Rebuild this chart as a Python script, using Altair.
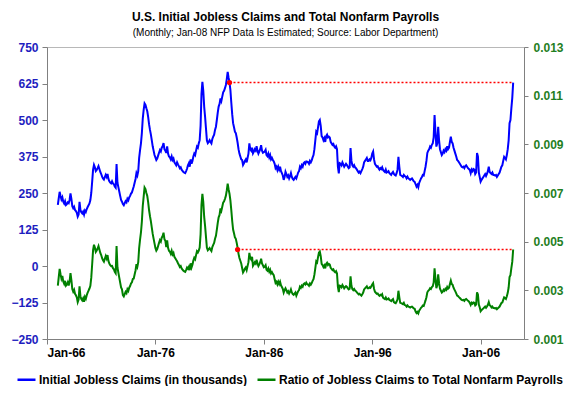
import altair as alt
import pandas as pd

START_YEAR = 1967  # first month: Jan-1967, monthly through Jan-2009

# Initial jobless claims, monthly average, thousands
claims = [
    209, 232, 254, 240, 228, 235, 220, 214, 222, 209, 212, 218,  # 1967
    215, 226, 249, 230, 205, 198, 203, 192, 188, 182, 169, 176,  # 1968
    220, 192, 184, 180, 186, 176, 190, 185, 195, 202, 208, 214,  # 1969
    226, 250, 289, 330, 346, 338, 325, 329, 335, 342, 332, 322,  # 1970
    315, 306, 300, 296, 304, 312, 305, 315, 298, 290, 286, 283,  # 1971
    290, 283, 280, 272, 268, 349, 285, 270, 255, 240, 226, 220,  # 1972
    212, 208, 215, 222, 218, 230, 225, 235, 240, 248, 252, 262,  # 1973
    272, 285, 298, 318, 310, 325, 370, 397, 420, 455, 505, 535,  # 1974
    557, 552, 540, 530, 510, 485, 466, 450, 430, 410, 395, 380,  # 1975
    372, 363, 368, 378, 388, 397, 392, 405, 410, 421, 400, 395,  # 1976
    387, 410, 385, 375, 372, 365, 375, 363, 368, 355, 350, 345,  # 1977
    355, 348, 342, 335, 338, 330, 326, 322, 320, 318, 325, 333,  # 1978
    345, 352, 340, 365, 350, 360, 375, 385, 380, 395, 409, 405,  # 1979
    420, 431, 480, 590, 631, 600, 545, 511, 470, 430, 421, 425,  # 1980
    431, 425, 420, 435, 443, 450, 466, 477, 500, 525, 546, 555,  # 1981
    574, 565, 580, 595, 600, 609, 620, 640, 665, 645, 628, 603,  # 1982
    560, 520, 489, 475, 460, 455, 440, 422, 400, 385, 375, 365,  # 1983
    363, 346, 352, 360, 365, 355, 370, 385, 420, 400, 395, 405,  # 1984
    386, 392, 400, 395, 410, 395, 385, 392, 400, 414, 395, 388,  # 1985
    390, 392, 398, 380, 376, 385, 372, 380, 365, 370, 363, 358,  # 1986
    350, 335, 340, 329, 340, 330, 340, 325, 318, 310, 295, 305,  # 1987
    323, 315, 305, 310, 300, 308, 318, 305, 298, 295, 300, 305,  # 1988
    300, 310, 320, 325, 340, 335, 345, 340, 352, 355, 350, 358,  # 1989
    357, 355, 350, 360, 355, 362, 372, 380, 400, 430, 460, 455,  # 1990
    475, 495, 500, 480, 445, 440, 431, 438, 425, 445, 450, 440,  # 1991
    443, 440, 425, 420, 415, 418, 409, 405, 410, 400, 340, 317,  # 1992
    352, 350, 345, 355, 348, 340, 345, 350, 346, 340, 335, 338,  # 1993
    404, 360, 345, 340, 345, 338, 335, 330, 325, 320, 323, 318,  # 1994
    325, 332, 340, 355, 360, 365, 370, 360, 360, 365, 362, 370,  # 1995
    385, 392, 365, 350, 345, 340, 342, 335, 330, 335, 332, 338,  # 1996
    329, 325, 322, 330, 320, 322, 325, 318, 315, 312, 318, 322,  # 1997
    315, 312, 310, 318, 330, 374, 340, 312, 310, 308, 305, 312,  # 1998
    308, 306, 300, 306, 300, 298, 295, 298, 300, 295, 290, 288,  # 1999
    280, 272, 278, 270, 285, 292, 300, 305, 312, 310, 325, 340,  # 2000
    360, 387, 395, 400, 409, 405, 415, 420, 440, 517, 460, 409,  # 2001
    420, 477, 430, 400, 390, 380, 385, 395, 390, 400, 395, 410,  # 2002
    400, 405, 425, 443, 425, 420, 405, 395, 385, 375, 363, 360,  # 2003
    355, 350, 345, 340, 338, 340, 335, 342, 345, 340, 335, 332,  # 2004
    329, 318, 330, 325, 332, 330, 315, 320, 387, 375, 320, 305,  # 2005
    289, 295, 300, 305, 310, 315, 308, 315, 325, 340, 322, 318,  # 2006
    315, 320, 312, 312, 310, 312, 305, 310, 315, 320, 330, 340,  # 2007
    345, 360, 374, 370, 365, 380, 400, 430, 489, 500, 540, 575,  # 2008
    628,                                                         # 2009
]

# Total nonfarm payrolls, thousands, level of each January 1967..2009
payrolls_jan = [
    65500, 67200, 69600, 71000, 70800, 72400, 75600, 78100, 77100, 78400,
    81100, 84600, 88800, 90600, 91000, 90100, 88900, 92600, 96300, 98800,
    101400, 104700, 108000, 109800, 108900, 108300, 110300, 113000, 116800, 119000,
    122000, 125400, 128600, 131500, 132500, 130600, 130300, 130400, 132500, 135000,
    137100, 138000, 134300,
]

series_names = ["Initial Jobless Claims (in thousands)",
                "Ratio of Jobless Claims to Total Nonfarm Payrolls"]
series_colors = ["#0000FF", "#008000"]

x_ticks = [1966, 1976, 1986, 1996, 2006]
left_ticks = [-250, -125, 0, 125, 250, 375, 500, 625, 750]
right_ticks = [0.001, 0.003, 0.005, 0.007, 0.009, 0.011, 0.013]

ref_start_claims = 1982 + 10 / 12   # Nov-82
ref_start_ratio = 1983 + 7 / 12     # Aug-83

t = [START_YEAR + i / 12 for i in range(len(claims))]
ratio = [c / payrolls_jan[i // 12] for i, c in enumerate(claims)]

df_c = pd.DataFrame({"t": t, "v": claims, "s": series_names[0]})
df_r = pd.DataFrame({"t": t, "v": ratio, "s": series_names[1]})
ref_c = pd.DataFrame({"t": [ref_start_claims], "t2": [t[-1]], "v": [claims[-1]]})
ref_r = pd.DataFrame({"t": [ref_start_ratio], "t2": [t[-1]], "v": [ratio[-1]]})

FONT = "Liberation Sans"

xenc = alt.X(
    "t:Q",
    scale=alt.Scale(domain=[1966, 2010], nice=False, zero=False),
    axis=alt.Axis(values=x_ticks, labelExpr="'Jan-' + substring(toString(datum.value), 2, 4)",
                  title=None, grid=False, tickSize=5, labelPadding=3, labelColor="black",
                  labelFontSize=12),
)
color = alt.Color(
    "s:N",
    scale=alt.Scale(domain=series_names, range=series_colors),
    legend=alt.Legend(orient="none", legendX=-31, legendY=322, direction="horizontal",
                      title=None, symbolType="stroke", symbolSize=324, symbolStrokeWidth=2.5,
                      labelFontSize=12, labelFontWeight="bold", labelFont=FONT,
                      labelColor="black", columnPadding=4, labelOffset=2, padding=0,
                      labelLimit=400),
)
yA = alt.Y(
    "v:Q",
    scale=alt.Scale(domain=[-250, 750], nice=False, zero=False),
    axis=alt.Axis(values=left_ticks, orient="left", title=None, grid=False, tickSize=5,
                  labelPadding=4, labelColor="#1E1EC0", labelFontSize=12),
)
yB = alt.Y(
    "v:Q",
    scale=alt.Scale(domain=[0.001, 0.013], nice=False, zero=False),
    axis=alt.Axis(values=right_ticks, orient="right", format=".3f", title=None, grid=False,
                  tickSize=4, labelPadding=5, labelColor="#1F801F", labelFontSize=12),
)

lineA = alt.Chart(df_c).mark_line(strokeWidth=2).encode(x=xenc, y=yA, color=color)
ruleA = alt.Chart(ref_c).mark_rule(color="#FF0000", strokeDash=[2, 2], strokeWidth=1.5).encode(
    x=xenc, x2=alt.X2("t2"), y=yA)
dotA = alt.Chart(ref_c).mark_circle(color="#FF0000", size=28, opacity=1).encode(x=xenc, y=yA)

lineB = alt.Chart(df_r).mark_line(strokeWidth=2).encode(x=xenc, y=yB, color=color)
ruleB = alt.Chart(ref_r).mark_rule(color="#FF0000", strokeDash=[2, 2], strokeWidth=1.5).encode(
    x=xenc, x2=alt.X2("t2"), y=yB)
dotB = alt.Chart(ref_r).mark_circle(color="#FF0000", size=28, opacity=1).encode(x=xenc, y=yB)

layerA = alt.layer(lineA, ruleA, dotA)
layerB = alt.layer(lineB, ruleB, dotB)

chart = (
    alt.layer(layerA, layerB)
    .resolve_scale(y="independent")
    .properties(
        width=477,
        height=292,
        title=alt.TitleParams(
            text="U.S. Initial Jobless Claims and Total Nonfarm Payrolls",
            subtitle="(Monthly; Jan-08 NFP Data Is Estimated; Source: Labor Department)",
            fontSize=12, fontWeight="bold", font=FONT, color="black",
            subtitleFontSize=10, subtitleFont=FONT, subtitleColor="black",
            subtitleFontWeight="normal", subtitlePadding=4, anchor="middle", offset=2,
        ),
        autosize=alt.AutoSizeParams(type="none"),
        padding={"left": 39, "top": 39, "right": 44, "bottom": 47},
    )
    .configure(font=FONT, background="white")
    .configure_view(stroke="#B8B8B8", strokeWidth=1)
    .configure_axis(domainColor="#808080", tickColor="#808080", labelFont=FONT,
                    labelFontWeight="bold", domainWidth=1, tickWidth=1)
)

chart.save("out.html", embed_options={"renderer": "svg", "actions": False})
